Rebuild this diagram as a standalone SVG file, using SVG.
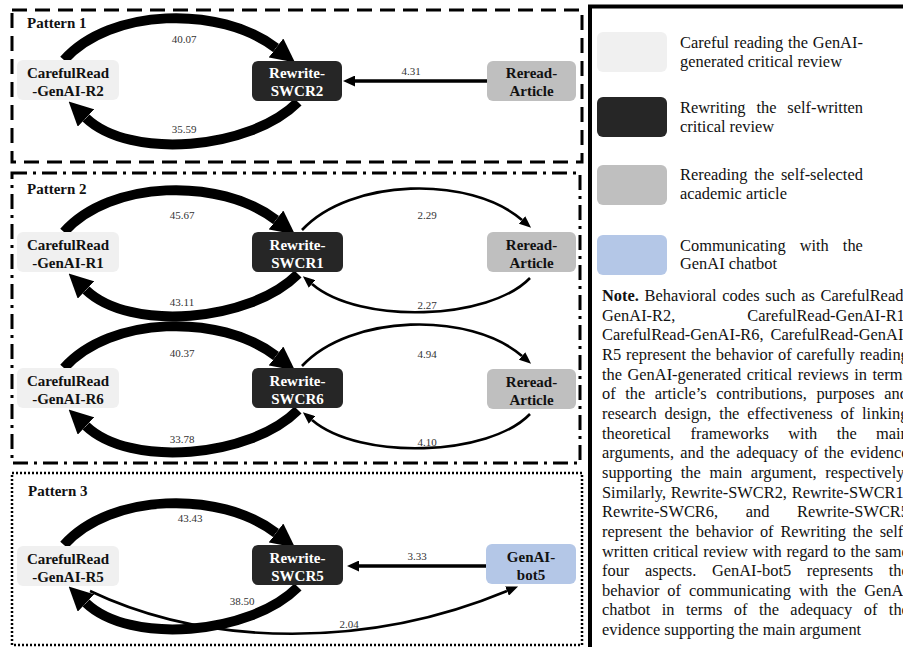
<svg xmlns="http://www.w3.org/2000/svg" width="903" height="647" viewBox="0 0 903 647">
<style>
text{font-family:"Liberation Serif","Times New Roman",serif;}
.pl{font-size:15px;font-weight:bold;fill:#111;}
.nt{font-size:15px;font-weight:bold;text-anchor:middle;fill:#111;}
.nt.w{fill:#fff;}
.lb{font-size:11px;text-anchor:middle;fill:#333;}
.lg{font-size:16.4px;fill:#111;}
.light{fill:#f0f0f0;}
.dark{fill:#262626;}
.gray{fill:#bfbfbf;}
.blue{fill:#b4c7e7;}
.thick{fill:none;stroke:#000;stroke-width:10;marker-end:url(#ahBig);}
.thin{fill:none;stroke:#000;stroke-width:2.6;marker-end:url(#ahSmall);}
.str{fill:none;stroke:#000;stroke-width:3.5;marker-end:url(#ahMid);}
</style>
<defs>
<marker id="ahBig" markerUnits="userSpaceOnUse" markerWidth="24" markerHeight="24" viewBox="0 0 24 24" refX="0" refY="12" orient="auto"><path d="M0,0 L24,12 L0,24 z" fill="#000"/></marker>
<marker id="ahSmall" markerUnits="userSpaceOnUse" markerWidth="12" markerHeight="10" viewBox="0 0 12 10" refX="0" refY="5" orient="auto"><path d="M0,0 L12,5 L0,10 z" fill="#000"/></marker>
<marker id="ahMid" markerUnits="userSpaceOnUse" markerWidth="12" markerHeight="11" viewBox="0 0 12 11" refX="0" refY="5.5" orient="auto"><path d="M0,0 L12,5.5 L0,11 z" fill="#000"/></marker>
</defs>
<rect width="903" height="647" fill="#fff"/>

<!-- pattern frames -->
<g id="frames" fill="none" stroke="#000">
<rect x="12" y="10" width="570" height="152" stroke-width="3" stroke-dasharray="15 8"/>
<rect x="12" y="173" width="568" height="290" stroke-width="3" stroke-dasharray="15 6 3 6"/>
<rect x="12" y="473" width="570" height="172" stroke-width="2.5" stroke-dasharray="2 2"/>
</g>
<text class="pl" x="27" y="28">Pattern 1</text>
<text class="pl" x="27" y="194">Pattern 2</text>
<text class="pl" x="28" y="496">Pattern 3</text>

<!-- connectors -->
<g id="connectors">
<!-- Pattern 1 -->
<path class="thick" d="M64,60 C110,8 220,5 276,48"/>
<path class="thick" d="M298,102 C250,150 130,160 86,118"/>
<path class="str" d="M487,81 L355,81"/>
<!-- Pattern 2 row 1 -->
<path class="thick" d="M64,232 C110,180 220,177 276,220"/>
<path class="thick" d="M298,274 C250,322 130,332 86,290"/>
<path class="thin" d="M302,230 C350,178 470,175 522,220"/>
<path class="thin" d="M530,278 C490,320 360,325 312,284"/>
<!-- Pattern 2 row 2 -->
<path class="thick" d="M64,368 C110,316 220,313 276,356"/>
<path class="thick" d="M298,410 C250,458 130,468 86,426"/>
<path class="thin" d="M302,366 C350,314 470,311 522,356"/>
<path class="thin" d="M530,414 C490,456 360,461 312,420"/>
<!-- Pattern 3 -->
<path class="thick" d="M64,545 C110,493 220,490 276,533"/>
<path class="thick" d="M298,587 C250,635 130,645 86,603"/>
<path class="str" d="M486,566 L359,566"/>
<path class="thin" d="M90,591 C210,648 370,648 507,591"/>
</g>

<g id="edge-labels">
<text class="lb" x="184" y="43">40.07</text>
<text class="lb" x="184" y="133">35.59</text>
<text class="lb" x="411" y="75">4.31</text>
<text class="lb" x="182" y="219">45.67</text>
<text class="lb" x="182" y="306">43.11</text>
<text class="lb" x="427" y="219">2.29</text>
<text class="lb" x="427" y="309">2.27</text>
<text class="lb" x="182" y="357">40.37</text>
<text class="lb" x="182" y="443">33.78</text>
<text class="lb" x="427" y="358">4.94</text>
<text class="lb" x="427" y="446">4.10</text>
<text class="lb" x="190" y="522">43.43</text>
<text class="lb" x="242" y="605">38.50</text>
<text class="lb" x="417" y="560">3.33</text>
<text class="lb" x="349" y="628">2.04</text>
</g>

<!-- nodes -->
<g id="n-careful-r2"><rect class="light" x="17" y="60" width="102" height="40" rx="6"/><text class="nt" x="68" y="77.5">CarefulRead</text><text class="nt" x="68" y="95.5">-GenAI-R2</text></g>
<g id="n-rewrite-swcr2"><rect class="dark" x="252" y="61" width="90" height="40" rx="6"/><text class="nt w" x="297" y="78">Rewrite-</text><text class="nt w" x="297" y="96">SWCR2</text></g>
<g id="n-reread-1"><rect class="gray" x="487" y="61" width="89" height="40" rx="6"/><text class="nt" x="531.5" y="78">Reread-</text><text class="nt" x="531.5" y="96">Article</text></g>

<g id="n-careful-r1"><rect class="light" x="17" y="232" width="102" height="40" rx="6"/><text class="nt" x="68" y="249.5">CarefulRead</text><text class="nt" x="68" y="267.5">-GenAI-R1</text></g>
<g id="n-rewrite-swcr1"><rect class="dark" x="252" y="232" width="91" height="40" rx="6"/><text class="nt w" x="297.5" y="249.5">Rewrite-</text><text class="nt w" x="297.5" y="267.5">SWCR1</text></g>
<g id="n-reread-2"><rect class="gray" x="487" y="232" width="89" height="40" rx="6"/><text class="nt" x="531.5" y="249.5">Reread-</text><text class="nt" x="531.5" y="267.5">Article</text></g>

<g id="n-careful-r6"><rect class="light" x="17" y="368" width="102" height="40" rx="6"/><text class="nt" x="68" y="385.5">CarefulRead</text><text class="nt" x="68" y="403.5">-GenAI-R6</text></g>
<g id="n-rewrite-swcr6"><rect class="dark" x="252" y="368" width="91" height="40" rx="6"/><text class="nt w" x="297.5" y="385.5">Rewrite-</text><text class="nt w" x="297.5" y="403.5">SWCR6</text></g>
<g id="n-reread-3"><rect class="gray" x="487" y="369" width="89" height="40" rx="6"/><text class="nt" x="531.5" y="386.5">Reread-</text><text class="nt" x="531.5" y="404.5">Article</text></g>

<g id="n-careful-r5"><rect class="light" x="17" y="546" width="102" height="40" rx="6"/><text class="nt" x="68" y="563.5">CarefulRead</text><text class="nt" x="68" y="581.5">-GenAI-R5</text></g>
<g id="n-rewrite-swcr5"><rect class="dark" x="252" y="545" width="91" height="40" rx="6"/><text class="nt w" x="297.5" y="562.5">Rewrite-</text><text class="nt w" x="297.5" y="580.5">SWCR5</text></g>
<g id="n-genai-bot5"><rect class="blue" x="486" y="544" width="90" height="40" rx="6"/><text class="nt" x="531" y="561.5">GenAI-</text><text class="nt" x="531" y="579.5">bot5</text></g>

<!-- legend -->
<g id="legend">
<rect x="590" y="6.5" width="340" height="660" fill="none" stroke="#000" stroke-width="4"/>
<rect class="light" x="597" y="32" width="70" height="40" rx="6"/>
<rect class="dark" x="597" y="97" width="70" height="40" rx="6"/>
<rect class="gray" x="597" y="165" width="70" height="40" rx="6"/>
<rect class="blue" x="597" y="235" width="70" height="40" rx="6"/>
<text class="lg" x="680" y="48.3" word-spacing="0.73">Careful reading the GenAI-</text>
<text class="lg" x="680" y="66.7">generated critical review</text>
<text class="lg" x="680" y="113.3" word-spacing="6.8">Rewriting the self-written</text>
<text class="lg" x="680" y="131.7">critical review</text>
<text class="lg" x="680" y="180" word-spacing="2.7">Rereading the self-selected</text>
<text class="lg" x="680" y="199">academic article</text>
<text class="lg" x="680" y="250.7" word-spacing="9.95">Communicating with the</text>
<text class="lg" x="680" y="269.3">GenAI chatbot</text>
</g>

<g id="note">
<text class="lg" x="602" y="301" word-spacing="1.65"><tspan font-weight="bold">Note.</tspan> Behavioral codes such as CarefulRead-</text>
<text class="lg" x="602" y="320.7" word-spacing="67.9">GenAI-R2, CarefulRead-GenAI-R1,</text>
<text class="lg" x="602" y="340.3" word-spacing="2.8">CarefulRead-GenAI-R6, CarefulRead-GenAI-</text>
<text class="lg" x="602" y="360" word-spacing="0.77">R5 represent the behavior of carefully reading</text>
<text class="lg" x="602" y="379.6" word-spacing="1.38">the GenAI-generated critical reviews in terms</text>
<text class="lg" x="602" y="399.3" word-spacing="5.46">of the article’s contributions, purposes and</text>
<text class="lg" x="602" y="418.9" word-spacing="3.83">research design, the effectiveness of linking</text>
<text class="lg" x="602" y="438.6" word-spacing="15.25">theoretical frameworks with the main</text>
<text class="lg" x="602" y="458.2" word-spacing="2.05">arguments, and the adequacy of the evidence</text>
<text class="lg" x="602" y="477.9" word-spacing="4.55">supporting the main argument, respectively.</text>
<text class="lg" x="602" y="497.5" word-spacing="0.7">Similarly, Rewrite-SWCR2, Rewrite-SWCR1,</text>
<text class="lg" x="602" y="517.2" word-spacing="23.5">Rewrite-SWCR6, and Rewrite-SWCR5</text>
<text class="lg" x="602" y="536.8" word-spacing="2.73">represent the behavior of Rewriting the self-</text>
<text class="lg" x="602" y="556.5" word-spacing="0.59">written critical review with regard to the same</text>
<text class="lg" x="602" y="576.1" word-spacing="11.5">four aspects. GenAI-bot5 represents the</text>
<text class="lg" x="602" y="595.8" word-spacing="3.92">behavior of communicating with the GenAI</text>
<text class="lg" x="602" y="615.4" word-spacing="7.36">chatbot in terms of the adequacy of the</text>
<text class="lg" x="602" y="635">evidence supporting the main argument</text>
</g>
</svg>
